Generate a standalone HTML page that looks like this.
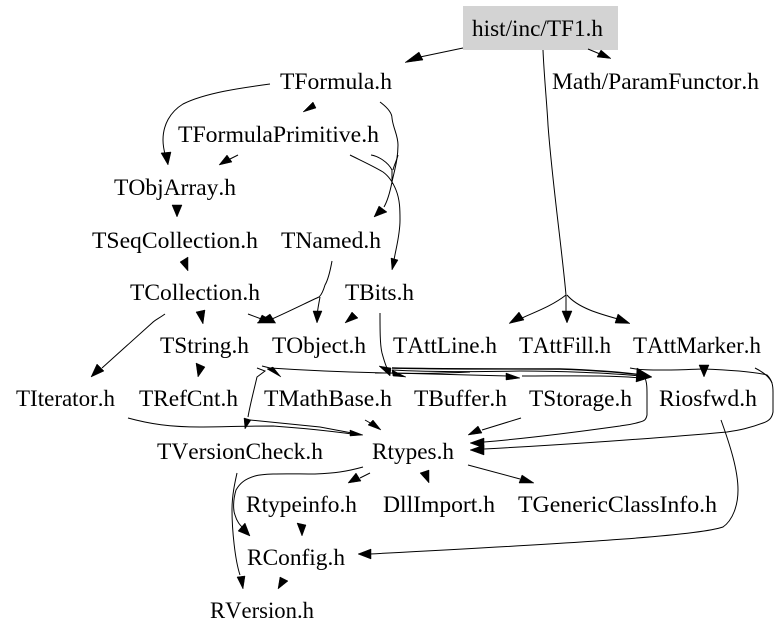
<!DOCTYPE html>
<html><head><meta charset="utf-8"><style>
html,body{margin:0;padding:0;background:#fff;width:779px;height:637px;overflow:hidden}
svg{display:block}
text{font-family:"Liberation Serif",serif;font-size:23px;fill:#000;font-kerning:none}
.e{fill:none;stroke:#000;stroke-width:1}
.b{fill:none;stroke:#000;stroke-width:1.4}
polygon{fill:#000;stroke:#000;stroke-width:.5}
</style></head><body>
<svg width="779" height="637" viewBox="0 0 779 637" xmlns="http://www.w3.org/2000/svg">
<rect x="463" y="6" width="155" height="44" fill="#d3d3d3"/>
<path class="e" d="M463 48L420 57"/><polygon points="405,62.5 419,52 423,60"/>
<path class="e" d="M588 49L600 54"/><polygon points="611,58.5 597,57 601,50"/>
<path class="e" d="M543 50C544 75 547 105 548 125C552 180 562 250 566 295"/>
<path class="e" d="M566 295C552 306 535 312 522 318"/><polygon points="509,323.5 519,312 524,320"/>
<path class="e" d="M566 295V312"/><polygon points="567,323 562,311 572,311"/>
<path class="e" d="M567 295C578 308 600 314 618 319"/><polygon points="630,323.500 615,323 618,314"/>
<path class="e" d="M270 84C240 88 205 93 183 104C170 112 163 125 163 140C163 148 165 154 166 158"/><polygon points="168,165 161,153 171,152"/>
<polygon points="303,112 313,102 316,108"/>
<path class="e" d="M380 102C388 108 392 113 392 118C393 128 398 135 398 145C398 160 394 172 392 182C390 192 388 200 384 207"/><polygon points="374,217 379,206 387,212"/>
<path class="e" d="M398 155C397 160 394 165 393 170"/>
<path class="e" d="M371 155C378 156 388 162 392 170C392 175 392 180 392 184"/>
<path class="e" d="M350 155C362 161 375 167 383 172C390 177 394 185 396 190C400 200 400 210 400 220C400 235 396 248 394 260"/><polygon points="392,270 391,258 398,260"/>
<path class="e" d="M238 155L228 160"/><polygon points="219,165 227,155 232,162"/>
<polygon points="177,217 172,205 182,205"/>
<polygon points="188,271 180,262 188,257"/>
<polygon points="203,324 196,312 205,310"/>
<path class="e" d="M248 314L264 320"/><polygon points="276,323 262,315 258,323"/>
<path class="e" d="M332 261C330 272 328 280 325 285C322 295 320 296 319 297C312 300 290 311 272 319"/><polygon points="257,323 270,314 275,322"/>
<path class="e" d="M320 297C319 303 318 307 317.500 312"/><polygon points="317,323 313,311 322,311"/>
<polygon points="345,323 352,312 358,318"/>
<path class="e" d="M165 314C158 319 155 320 152 323L102 368"/><polygon points="91,377 97,364 104,371"/>
<polygon points="198,377 196,363 205,367"/>
<polygon points="281,377 267,369 273,367"/>
<path class="e" d="M262 366L270 368"/>
<path class="e" d="M257 368L265 371L257 377C254 390 250 405 248 417"/><polygon points="245,429 244,418 251,420"/>
<path class="e" d="M270 368C300 370 340 372 385 373C420 374 450 373 470 372"/>
<path class="e" d="M375 373H392"/>
<path class="b" d="M392 368C430 369 500 369 560 369C590 370 620 372 642 375"/>
<path class="e" d="M392 370C430 372 470 372 520 371C560 371 610 373 640 376"/>
<path class="e" d="M392 373C440 374 480 375 508 376"/>
<path class="e" d="M522 376C570 376 610 375 640 378"/>
<path class="e" d="M380 313C380 330 380 345 382 353C384 360 385 364 387 368"/><polygon points="390,376 379,366 391,368"/>
<polygon points="406,377 392,370 393,376"/>
<polygon points="520,378 506,373 506,380"/>
<polygon points="652,377 637,368 636,382"/>
<path class="e" d="M630 368C640 370 650 370 665 370C680 370 700 369 703 369C730 370 755 372 767 375C772 380 773 385 773 392C773 400 773 407 773 412C772 418 769 421 763 423C750 428 740 430 727 432C660 438 560 445 484 449"/><polygon points="470,450 484,445 484,455"/>
<path class="e" d="M755 368C765 373 770 378 772 383"/>
<path class="e" d="M645 378C647 383 647 388 647 395C647 405 647 410 647 415C646 420 644 421 640 422C630 425 625 425 620 426C570 433 520 439 484 442"/><polygon points="470,443 484,438 484,448"/>
<polygon points="704,377 699,365 709,365"/>
<path class="e" d="M128 418C150 424 170 427 200 427C225 427 240 426 273 426C300 428 330 431 352 434"/><polygon points="363,435 350,430 350,436"/>
<path class="e" d="M250 420L320 427L352 433"/>
<path class="e" d="M365 420L372 424"/><polygon points="381,430 368,425 373,420"/>
<path class="e" d="M521 418L482 430"/><polygon points="468,435 478,426 482,433"/>
<path class="e" d="M237 473C235 482 232 495 232 510C232 530 235 560 240 575"/><polygon points="243,589 237,577 245,576"/>
<path class="e" d="M363 467C345 472 335 473 315 474C290 474 265 473 255 476C245 479 240 483 236 490C233 500 233 510 235 515C237 522 240 525 243 528"/><polygon points="250,536 238,531 245,523"/>
<path class="e" d="M370 473L360 478"/><polygon points="348,483 356,473 361,481"/>
<polygon points="302,536 297,523 306,525"/>
<polygon points="278,589 280,577 288,581"/>
<path class="e" d="M721 420C730 445 738 470 738 490C738 505 733 520 723 527C700 535 600 542 370 554"/><polygon points="358,554 371,549 371,559"/>
<polygon points="429,483 420,473 429,470"/>
<path class="e" d="M468 465L520 479"/><polygon points="534,483 519,483 522,475"/>
<g lengthAdjust="spacingAndGlyphs">
<text x="472" y="36" textLength="131" lengthAdjust="spacingAndGlyphs">hist/inc/TF1.h</text>
<text x="280" y="89" textLength="112" lengthAdjust="spacingAndGlyphs">TFormula.h</text>
<text x="552" y="89" textLength="207" lengthAdjust="spacingAndGlyphs">Math/ParamFunctor.h</text>
<text x="178" y="142" textLength="201" lengthAdjust="spacingAndGlyphs">TFormulaPrimitive.h</text>
<text x="114" y="195" textLength="122" lengthAdjust="spacingAndGlyphs">TObjArray.h</text>
<text x="92" y="248" textLength="166" lengthAdjust="spacingAndGlyphs">TSeqCollection.h</text>
<text x="281" y="248" textLength="100" lengthAdjust="spacingAndGlyphs">TNamed.h</text>
<text x="130" y="300" textLength="130" lengthAdjust="spacingAndGlyphs">TCollection.h</text>
<text x="345" y="300" textLength="69" lengthAdjust="spacingAndGlyphs">TBits.h</text>
<text x="160" y="353" textLength="89" lengthAdjust="spacingAndGlyphs">TString.h</text>
<text x="272" y="353" textLength="94" lengthAdjust="spacingAndGlyphs">TObject.h</text>
<text x="393" y="353" textLength="104" lengthAdjust="spacingAndGlyphs">TAttLine.h</text>
<text x="519" y="353" textLength="92" lengthAdjust="spacingAndGlyphs">TAttFill.h</text>
<text x="633" y="353" textLength="128" lengthAdjust="spacingAndGlyphs">TAttMarker.h</text>
<text x="16" y="406" textLength="99" lengthAdjust="spacingAndGlyphs">TIterator.h</text>
<text x="139" y="406" textLength="99" lengthAdjust="spacingAndGlyphs">TRefCnt.h</text>
<text x="264" y="406" textLength="128" lengthAdjust="spacingAndGlyphs">TMathBase.h</text>
<text x="414" y="406" textLength="93" lengthAdjust="spacingAndGlyphs">TBuffer.h</text>
<text x="529" y="406" textLength="103" lengthAdjust="spacingAndGlyphs">TStorage.h</text>
<text x="659" y="406" textLength="98" lengthAdjust="spacingAndGlyphs">Riosfwd.h</text>
<text x="157" y="459" textLength="166" lengthAdjust="spacingAndGlyphs">TVersionCheck.h</text>
<text x="372" y="459" textLength="82" lengthAdjust="spacingAndGlyphs">Rtypes.h</text>
<text x="246" y="512" textLength="111" lengthAdjust="spacingAndGlyphs">Rtypeinfo.h</text>
<text x="383" y="512" textLength="112" lengthAdjust="spacingAndGlyphs">DllImport.h</text>
<text x="518" y="512" textLength="199" lengthAdjust="spacingAndGlyphs">TGenericClassInfo.h</text>
<text x="247" y="565" textLength="98" lengthAdjust="spacingAndGlyphs">RConfig.h</text>
<text x="210" y="618" textLength="104" lengthAdjust="spacingAndGlyphs">RVersion.h</text>
</g>
</svg>
</body></html>
